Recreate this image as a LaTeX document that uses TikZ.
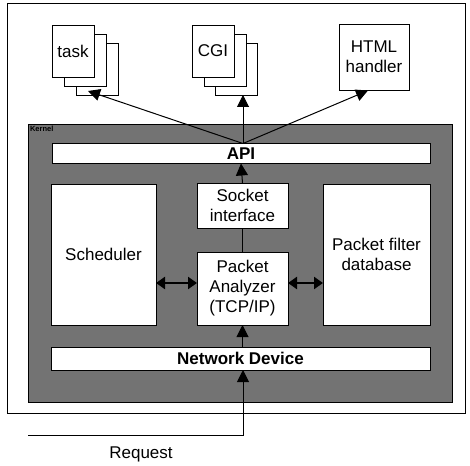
\documentclass[tikz,border=0pt]{standalone}
\usepackage{fontspec}
\setmainfont{Liberation Sans}
\usetikzlibrary{arrows.meta}
\begin{document}
\begin{tikzpicture}[x=1pt,y=-1pt,
  every node/.style={font=\fontsize{17}{20}\selectfont, inner sep=0pt, outer sep=0pt, align=center},
  box/.style={draw=black, line width=0.8pt, fill=white},
  arr/.style={line width=1pt, -{Triangle[length=12pt,width=12pt]}},
  darr/.style={line width=2.5pt, {Triangle[length=9pt,width=12pt]}-{Triangle[length=9pt,width=12pt]}},
]
\useasboundingbox (0,0) rectangle (470,465);
% outer frame and kernel
\node[draw, line width=0.6pt, minimum width=458pt, minimum height=410pt] (frame) at (236,208) {};
\node[draw, line width=1pt, fill=black!55, minimum width=424pt, minimum height=277pt] (kernel) at (240,263.5) {};
\node[anchor=north west, font=\fontsize{7.5}{7.5}\selectfont\bfseries] (klabel) at (30,126.5) {Kernel};
% kernel blocks
\node[box, minimum width=378pt, minimum height=20pt, font=\fontsize{17}{20}\selectfont\bfseries] (api) at (241,153.5) {API};
\node[box, minimum width=91pt, minimum height=45pt] (sock) at (242.5,205.5) {Socket\\interface};
\node[box, minimum width=105pt, minimum height=141pt] (sched) at (103.5,254.5) {Scheduler};
\node[box, minimum width=107pt, minimum height=141pt] (filter) at (376.5,254.5) {Packet filter\\database};
\node[box, minimum width=91pt, minimum height=73pt] (pa) at (242.5,288.5) {Packet\\Analyzer\\(TCP/IP)};
\node[box, minimum width=379pt, minimum height=23pt, font=\fontsize{17}{20}\selectfont\bfseries] (nd) at (240.5,358.5) {Network Device};
% task stack
\node[box, minimum width=42pt, minimum height=52pt] (t3) at (97,69) {};
\node[box, minimum width=42pt, minimum height=52pt] (t2) at (85,60) {};
\node[box, minimum width=42pt, minimum height=52pt] (t1) at (73,51) {task};
% CGI stack
\node[box, minimum width=42pt, minimum height=52pt] (c3) at (236,69) {};
\node[box, minimum width=42pt, minimum height=52pt] (c2) at (225,60) {};
\node[box, minimum width=42pt, minimum height=52pt] (c1) at (213,51) {CGI};
% HTML handler
\node[box, minimum width=70pt, minimum height=66pt] (html) at (374,57) {HTML\\handler};
% arrows to applications
\coordinate (apitop) at (243,143.5);
\coordinate (taskend) at (88,91);
\coordinate (cgiend) at (243,95);
\coordinate (htmlend) at (368,90.5);
\draw[arr] (apitop) -- (taskend);
\draw[arr] (apitop) -- (cgiend);
\draw[arr] (apitop) -- (htmlend);
% vertical chain
\draw[arr] (sock.north) -- (api.south);
\draw[line width=1pt] (pa.north) -- (sock.south);
\draw[arr] (nd.north -| pa.center) -- (pa.south);
% side double arrows
\coordinate (ylev) at (0,283);
\draw[darr] (sched.east |- ylev) -- (pa.west |- ylev);
\draw[darr] (pa.east |- ylev) -- (filter.west |- ylev);
% request
\coordinate (reqstart) at (28,435);
\coordinate (reqcorner) at (243,435);
\draw[arr] (reqstart) -- (reqcorner) -- (reqcorner |- nd.south);
\node (req) at (141,454) {Request};
\end{tikzpicture}
\end{document}
